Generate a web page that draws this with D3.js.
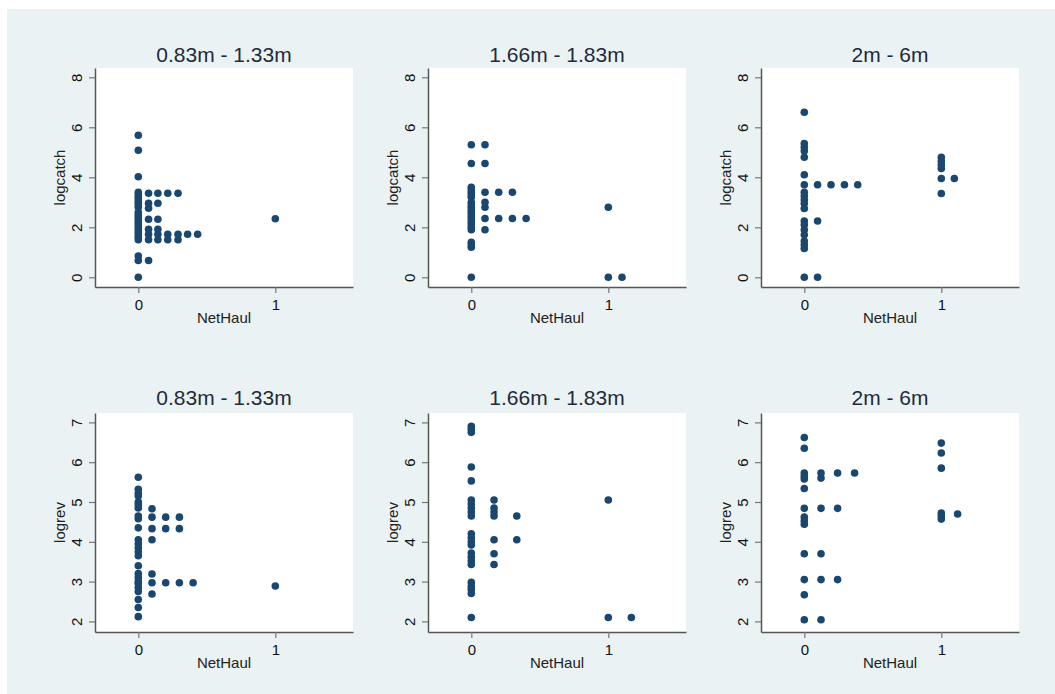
<!DOCTYPE html>
<html>
<head>
<meta charset="utf-8">
<script src="https://cdn.jsdelivr.net/npm/d3@7"></script>
<style>
    body { margin: 0; background: #ffffff; }
    text { font-family: "Liberation Sans", Arial, sans-serif; }
</style>
</head>
<body>
<div class="chart__container"></div>
<script>
/*-------------------------------------INIT-------------------------------------*/

const CHART__WIDTH = 1055;
const CHART__HEIGHT = 694;

const PANEL__WIDTH = 258;
const PANEL__HEIGHT = 219;
const COL__LEFT = [95, 428, 761];
const ROW__TOP = [68, 413];

const DOT__COLOR = "#1a476f";

// panel titles and axis labels
const sizeGroups = ["0.83m - 1.33m", "1.66m - 1.83m", "2m - 6m"];
const yLabels = ["logcatch", "logrev"];
const xLabel = "NetHaul";
const xTicks = [0, 1];
const catchTicks = [0, 2, 4, 6, 8];
const revTicks = [2, 3, 4, 5, 6, 7];

// [NetHaul, logcatch]
const catchSmall = [
    [0, 5.68], [0, 5.08], [0, 4.02], [0, 3.4], [0, 3.3], [0, 3.2], [0, 3.1], [0, 3.0], [0, 2.9],
    [0, 2.8], [0, 2.6], [0, 2.5], [0, 2.4], [0, 2.3], [0, 2.2], [0, 2.1], [0, 2.0], [0, 1.9],
    [0, 1.8], [0, 1.7], [0, 1.6], [0, 1.5], [0, 0.85], [0, 0.67], [0, 0],
    [0.075, 3.36], [0.075, 2.96], [0.075, 2.76], [0.075, 2.32], [0.075, 1.92], [0.075, 1.72],
    [0.075, 1.5], [0.075, 0.67],
    [0.143, 3.36], [0.143, 2.96], [0.143, 2.32], [0.143, 1.92], [0.143, 1.72], [0.143, 1.5],
    [0.215, 3.36], [0.215, 1.72], [0.215, 1.5],
    [0.29, 3.36], [0.29, 1.72], [0.29, 1.5],
    [0.36, 1.72], [0.433, 1.72],
    [1, 2.34]
];

const catchMid = [
    [0, 5.3], [0, 4.55], [0, 3.6], [0, 3.5], [0, 3.4], [0, 3.3], [0, 3.2], [0, 3.0], [0, 2.9],
    [0, 2.8], [0, 2.7], [0, 2.6], [0, 2.5], [0, 2.4], [0, 2.3], [0, 2.2], [0, 2.1], [0, 2.0],
    [0, 1.9], [0, 1.4], [0, 1.3], [0, 1.2], [0, 0],
    [0.1, 5.3], [0.1, 4.55], [0.1, 3.4], [0.1, 3.0], [0.1, 2.8], [0.1, 2.35], [0.1, 1.9],
    [0.2, 3.4], [0.2, 2.35],
    [0.3, 3.4], [0.3, 2.35],
    [0.4, 2.35],
    [1, 2.8], [1, 0], [1.1, 0]
];

const catchLarge = [
    [0, 6.6], [0, 5.35], [0, 5.2], [0, 5.05], [0, 4.8], [0, 4.1], [0, 3.7], [0, 3.4], [0, 3.25],
    [0, 3.1], [0, 2.95], [0, 2.75], [0, 2.25], [0, 2.1], [0, 1.9], [0, 1.7], [0, 1.45], [0, 1.3],
    [0, 1.15], [0, 0],
    [0.097, 3.7], [0.097, 2.25], [0.097, 0],
    [0.195, 3.7], [0.293, 3.7], [0.39, 3.7],
    [1, 4.8], [1, 4.65], [1, 4.5], [1, 4.35], [1, 3.95], [1, 3.35],
    [1.095, 3.95]
];

// [NetHaul, logrev]
const revSmall = [
    [0, 5.62], [0, 5.32], [0, 5.22], [0, 5.15], [0, 5.0], [0, 4.93], [0, 4.85], [0, 4.65], [0, 4.58],
    [0, 4.35], [0, 4.05], [0, 3.95], [0, 3.85], [0, 3.75], [0, 3.65], [0, 3.4], [0, 3.2], [0, 3.1],
    [0, 3.0], [0, 2.95], [0, 2.85], [0, 2.75], [0, 2.55], [0, 2.35], [0, 2.12],
    [0.1, 4.83], [0.1, 4.62], [0.1, 4.33], [0.1, 4.05], [0.1, 3.19], [0.1, 2.97], [0.1, 2.69],
    [0.2, 4.62], [0.2, 4.33], [0.2, 2.97],
    [0.3, 4.62], [0.3, 4.33], [0.3, 2.97],
    [0.4, 2.97],
    [1, 2.89]
];

const revMid = [
    [0, 6.9], [0, 6.83], [0, 6.75], [0, 5.88], [0, 5.53], [0, 5.05], [0, 4.95], [0, 4.85], [0, 4.75],
    [0, 4.65], [0, 4.2], [0, 4.1], [0, 4.0], [0, 3.92], [0, 3.72], [0, 3.62], [0, 3.52], [0, 3.43],
    [0, 2.98], [0, 2.88], [0, 2.8], [0, 2.7], [0, 2.1],
    [0.166, 5.05], [0.166, 4.85], [0.166, 4.75], [0.166, 4.65], [0.166, 4.05], [0.166, 3.7], [0.166, 3.43],
    [0.332, 4.65], [0.332, 4.05],
    [1, 5.05], [1, 2.1], [1.168, 2.1]
];

const revLarge = [
    [0, 6.62], [0, 6.35], [0, 5.73], [0, 5.65], [0, 5.58], [0, 5.34], [0, 4.84], [0, 4.62], [0, 4.52],
    [0, 4.44], [0, 3.7], [0, 3.05], [0, 2.67], [0, 2.04],
    [0.122, 5.73], [0.122, 5.6], [0.122, 4.84], [0.122, 3.7], [0.122, 3.05], [0.122, 2.04],
    [0.243, 5.73], [0.243, 4.84], [0.243, 3.05],
    [0.367, 5.73],
    [1, 6.48], [1, 6.23], [1, 5.85], [1, 4.72], [1, 4.65], [1, 4.57],
    [1.119, 4.7]
];

const PANELS = [
    { row: 0, col: 0, data: catchSmall },
    { row: 0, col: 1, data: catchMid },
    { row: 0, col: 2, data: catchLarge },
    { row: 1, col: 0, data: revSmall },
    { row: 1, col: 1, data: revMid },
    { row: 1, col: 2, data: revLarge }
];

/*-------------------------------------Graph-------------------------------------*/

const SVG = d3.select(".chart__container").append("svg");

SVG.attr("width", CHART__WIDTH).attr("height", CHART__HEIGHT)
    .style("display", "block");

// graph region
SVG.append("rect")
    .attr("x", 7).attr("y", 9)
    .attr("width", CHART__WIDTH - 7).attr("height", CHART__HEIGHT - 9)
    .attr("fill", "#eaf2f3");

const xScale = d3.scaleLinear().domain([-0.316, 1.567]).range([0, PANEL__WIDTH]);

const yScales = [
    d3.scaleLinear().domain([-0.388, 8.372]).range([PANEL__HEIGHT, 0]),
    d3.scaleLinear().domain([1.734, 7.236]).range([PANEL__HEIGHT, 0])
];

const yTickSets = [catchTicks, revTicks];

PANELS.forEach(p => {
    const yScale = yScales[p.row];

    const g = SVG.append("g")
        .attr("transform", `translate(${COL__LEFT[p.col]},${ROW__TOP[p.row]})`);

    // plot region
    g.append("rect")
        .attr("width", PANEL__WIDTH)
        .attr("height", PANEL__HEIGHT)
        .attr("fill", "#ffffff");

    // title
    g.append("text")
        .attr("x", PANEL__WIDTH / 2)
        .attr("y", p.row === 0 ? -6 : -8)
        .attr("text-anchor", "middle")
        .attr("font-size", 21)
        .attr("fill", "#1f2b3a")
        .text(sizeGroups[p.col]);

    // x axis
    const xAxis = g.append("g")
        .attr("transform", `translate(0,${PANEL__HEIGHT})`)
        .call(d3.axisBottom(xScale).tickValues(xTicks).tickFormat(d3.format("d"))
            .tickSize(6).tickPadding(6).tickSizeOuter(0));

    xAxis.select(".domain").attr("stroke", "#555").attr("stroke-width", 1.5);
    xAxis.selectAll(".tick line").attr("stroke", "#777").attr("stroke-width", 1.2);
    xAxis.selectAll(".tick text")
        .attr("font-size", 15)
        .attr("fill", "#111")
        .attr("font-family", "Liberation Sans, Arial, sans-serif");

    // y axis
    const yAxis = g.append("g")
        .call(d3.axisLeft(yScale).tickValues(yTickSets[p.row]).tickFormat(d3.format("d"))
            .tickSize(6).tickSizeOuter(0));

    yAxis.select(".domain").attr("stroke", "#555").attr("stroke-width", 1.5);
    yAxis.selectAll(".tick line").attr("stroke", "#777").attr("stroke-width", 1.2);
    yAxis.selectAll(".tick text")
        .attr("x", null).attr("dy", null)
        .attr("transform", "translate(-12.7,0) rotate(-90)")
        .attr("text-anchor", "middle")
        .attr("font-size", 15)
        .attr("fill", "#111")
        .attr("font-family", "Liberation Sans, Arial, sans-serif");

    // axis titles
    g.append("text")
        .attr("x", PANEL__WIDTH / 2)
        .attr("y", PANEL__HEIGHT + 36)
        .attr("text-anchor", "middle")
        .attr("font-size", 15)
        .attr("fill", "#222")
        .text(xLabel);

    g.append("text")
        .attr("transform", `translate(-30,${PANEL__HEIGHT / 2}) rotate(-90)`)
        .attr("text-anchor", "middle")
        .attr("font-size", 15)
        .attr("fill", "#222")
        .text(yLabels[p.row]);

    // markers
    g.selectAll("circle.dot")
        .data(p.data)
        .enter()
        .append("circle")
        .attr("class", "dot")
        .attr("cx", d => xScale(d[0]))
        .attr("cy", d => yScale(d[1]))
        .attr("r", 3.8)
        .attr("fill", DOT__COLOR);
});
</script>
</body>
</html>
